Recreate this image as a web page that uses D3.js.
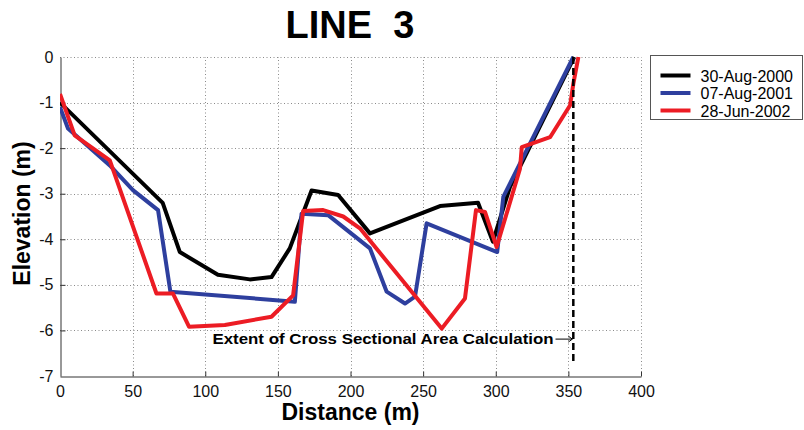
<!DOCTYPE html>
<html>
<head>
<meta charset="utf-8">
<script src="https://d3js.org/d3.v7.min.js"></script>
<style>
	body { margin: 0; background: #fff; }
	svg { display: block; font-family: Arial, "Liberation Sans", sans-serif; }
</style>
</head>
<body>
<svg id="chart" width="804" height="430"></svg>
<script>
// survey dates (legend)
var seriesNames = ["30-Aug-2000", "07-Aug-2001", "28-Jun-2002"];
var seriesColors = ["#000000", "#2e3f9e", "#ec1c24"];

// distance (m), elevation (m) pairs
var line2000 = [[0,-1.0],[70.7,-3.2],[82.5,-4.28],[108.7,-4.78],[130.7,-4.88],[145.6,-4.83],
	[158.2,-4.2],[173.2,-2.93],[191.5,-3.03],[213.4,-3.87],[261.6,-3.27],[287.8,-3.2],
	[298,-4.05],[309.8,-2.85],[354,0]];
var line2001 = [[0,-1.1],[5.5,-1.57],[34.3,-2.38],[50.2,-2.92],[67.5,-3.36],[76,-5.15],
	[161.7,-5.37],[166.3,-3.44],[184.6,-3.47],[213.4,-4.2],[224.9,-5.15],[237.5,-5.41],
	[244.4,-5.26],[252.4,-3.65],[301,-4.28],[305.2,-3.07],[353.4,0]];
var line2002 = [[0,-0.81],[10.1,-1.72],[34.3,-2.27],[66.4,-5.19],[77.8,-5.19],[88.9,-5.92],
	[113.5,-5.88],[145.6,-5.7],[160.5,-5.23],[167.4,-3.38],[181.2,-3.36],[195,-3.5],
	[206.5,-3.76],[262.8,-5.96],[278.8,-5.3],[286.4,-3.36],[292.6,-3.4],[300.6,-4.17],
	[316.7,-2.45],[317.9,-1.98],[337.4,-1.76],[351.2,-1.06],[353.4,-0.59],[356.9,0]];

var xTicks = [0,50,100,150,200,250,300,350,400];
var yTicks = [0,-1,-2,-3,-4,-5,-6,-7];

// extent of area calculation
var extentX = 353.4;
var extentBottom = -6.75;
var noteText = "Extent of Cross Sectional Area Calculation";
var noteStart = 105;
var noteY = -6.3;

var margin = {left: 60, top: 57, right: 163, bottom: 54};
var W = 804, H = 430;
var pw = W - margin.left - margin.right;
var ph = H - margin.top - margin.bottom;

var svg = d3.select("#chart");
var x = d3.scaleLinear().domain([0, 400]).range([margin.left, margin.left + pw]);
var y = d3.scaleLinear().domain([-7, 0]).range([margin.top + ph, margin.top]);

// grid
var grid = svg.append("g").attr("stroke", "#8a8a8a").attr("stroke-width", 1).attr("stroke-dasharray", "1,2.5");
grid.selectAll(".gx").data(xTicks.filter(d => d > 0)).enter().append("line")
	.attr("x1", d => Math.round(x(d)) + 0.5).attr("x2", d => Math.round(x(d)) + 0.5)
	.attr("y1", y(-7)).attr("y2", y(0));
grid.selectAll(".gy").data(yTicks.filter(d => d > -7)).enter().append("line")
	.attr("y1", d => Math.round(y(d)) + 0.5).attr("y2", d => Math.round(y(d)) + 0.5)
	.attr("x1", x(0)).attr("x2", x(400));

// axes
var xAxis = svg.append("g").attr("transform", "translate(0," + (Math.round(y(-7)) + 0.5) + ")")
	.call(d3.axisBottom(x).tickValues(xTicks).tickSizeInner(-5).tickSizeOuter(0).tickPadding(9));
var yAxis = svg.append("g").attr("transform", "translate(" + (Math.round(x(0)) + 0.5) + ",0)")
	.call(d3.axisLeft(y).tickValues(yTicks).tickSizeInner(-5).tickSizeOuter(0).tickPadding(7).tickFormat(d => String(d)));
[xAxis, yAxis].forEach(function(a){
	a.select(".domain").attr("stroke", "#333");
	a.selectAll(".tick line").attr("stroke", "#333");
	a.selectAll("text").attr("font-size", 16).attr("fill", "#111").attr("font-family", "Arial, 'Liberation Sans', sans-serif");
});
yAxis.selectAll(".tick").filter(d => d == 0 || d == -7).select("line").remove();
xAxis.selectAll(".tick").filter(d => d == 0).select("line").remove();

// profiles
var lineGen = d3.line().x(d => x(d[0])).y(d => y(d[1]));
svg.append("clipPath").attr("id", "clip").append("rect")
	.attr("x", x(0)).attr("y", y(0) - 2).attr("width", pw).attr("height", ph + 2);
var plot = svg.append("g").attr("clip-path", "url(#clip)");
[line2000, line2001, line2002].forEach(function(s, i){
	plot.append("path").attr("d", lineGen(s)).attr("fill", "none")
		.attr("stroke", seriesColors[i]).attr("stroke-width", 4)
		.attr("stroke-linejoin", "round");
});

// extent line + note
svg.append("line").attr("x1", x(extentX)).attr("x2", x(extentX))
	.attr("y1", y(0)).attr("y2", y(extentBottom))
	.attr("stroke", "#000").attr("stroke-width", 2.5).attr("stroke-dasharray", "7,4");
var note = svg.append("text").attr("x", x(noteStart)).attr("y", y(noteY))
	.attr("font-size", 15).attr("font-weight", "bold")
	.attr("textLength", 341).attr("lengthAdjust", "spacingAndGlyphs").text(noteText);
var noteEnd = x(noteStart) + 343;
var ay = y(noteY) - 5;
svg.append("line").attr("x1", noteEnd).attr("x2", x(extentX) - 1).attr("y1", ay).attr("y2", ay)
	.attr("stroke", "#000").attr("stroke-width", 1);
svg.append("path").attr("d", "M" + (x(extentX) - 5) + "," + (ay - 3) + "L" + (x(extentX) - 1) + "," + ay + "L" + (x(extentX) - 5) + "," + (ay + 3))
	.attr("fill", "none").attr("stroke", "#000").attr("stroke-width", 1);

// titles
svg.append("text").attr("x", 350).attr("y", 38).attr("text-anchor", "middle")
	.attr("font-size", 38).attr("font-weight", "bold").style("white-space", "pre").text("LINE  3");
svg.append("text").attr("x", margin.left + pw / 2).attr("y", 420).attr("text-anchor", "middle")
	.attr("font-size", 23).attr("font-weight", "bold").text("Distance (m)");
svg.append("text").attr("transform", "translate(30," + (margin.top + ph / 2 - 3) + ") rotate(-90)")
	.attr("text-anchor", "middle").attr("font-size", 23).attr("font-weight", "bold").text("Elevation (m)");

// legend
var lg = svg.append("g").attr("transform", "translate(650.5,55.5)");
lg.append("rect").attr("width", 152).attr("height", 64).attr("fill", "#fff").attr("stroke", "#555");
seriesNames.forEach(function(n, i){
	var ly = 20 + i * 17.5;
	lg.append("line").attr("x1", 10).attr("x2", 40).attr("y1", ly).attr("y2", ly)
		.attr("stroke", seriesColors[i]).attr("stroke-width", 4);
	lg.append("text").attr("x", 50).attr("y", ly + 6).attr("font-size", 16).text(n);
});
</script>
</body>
</html>
